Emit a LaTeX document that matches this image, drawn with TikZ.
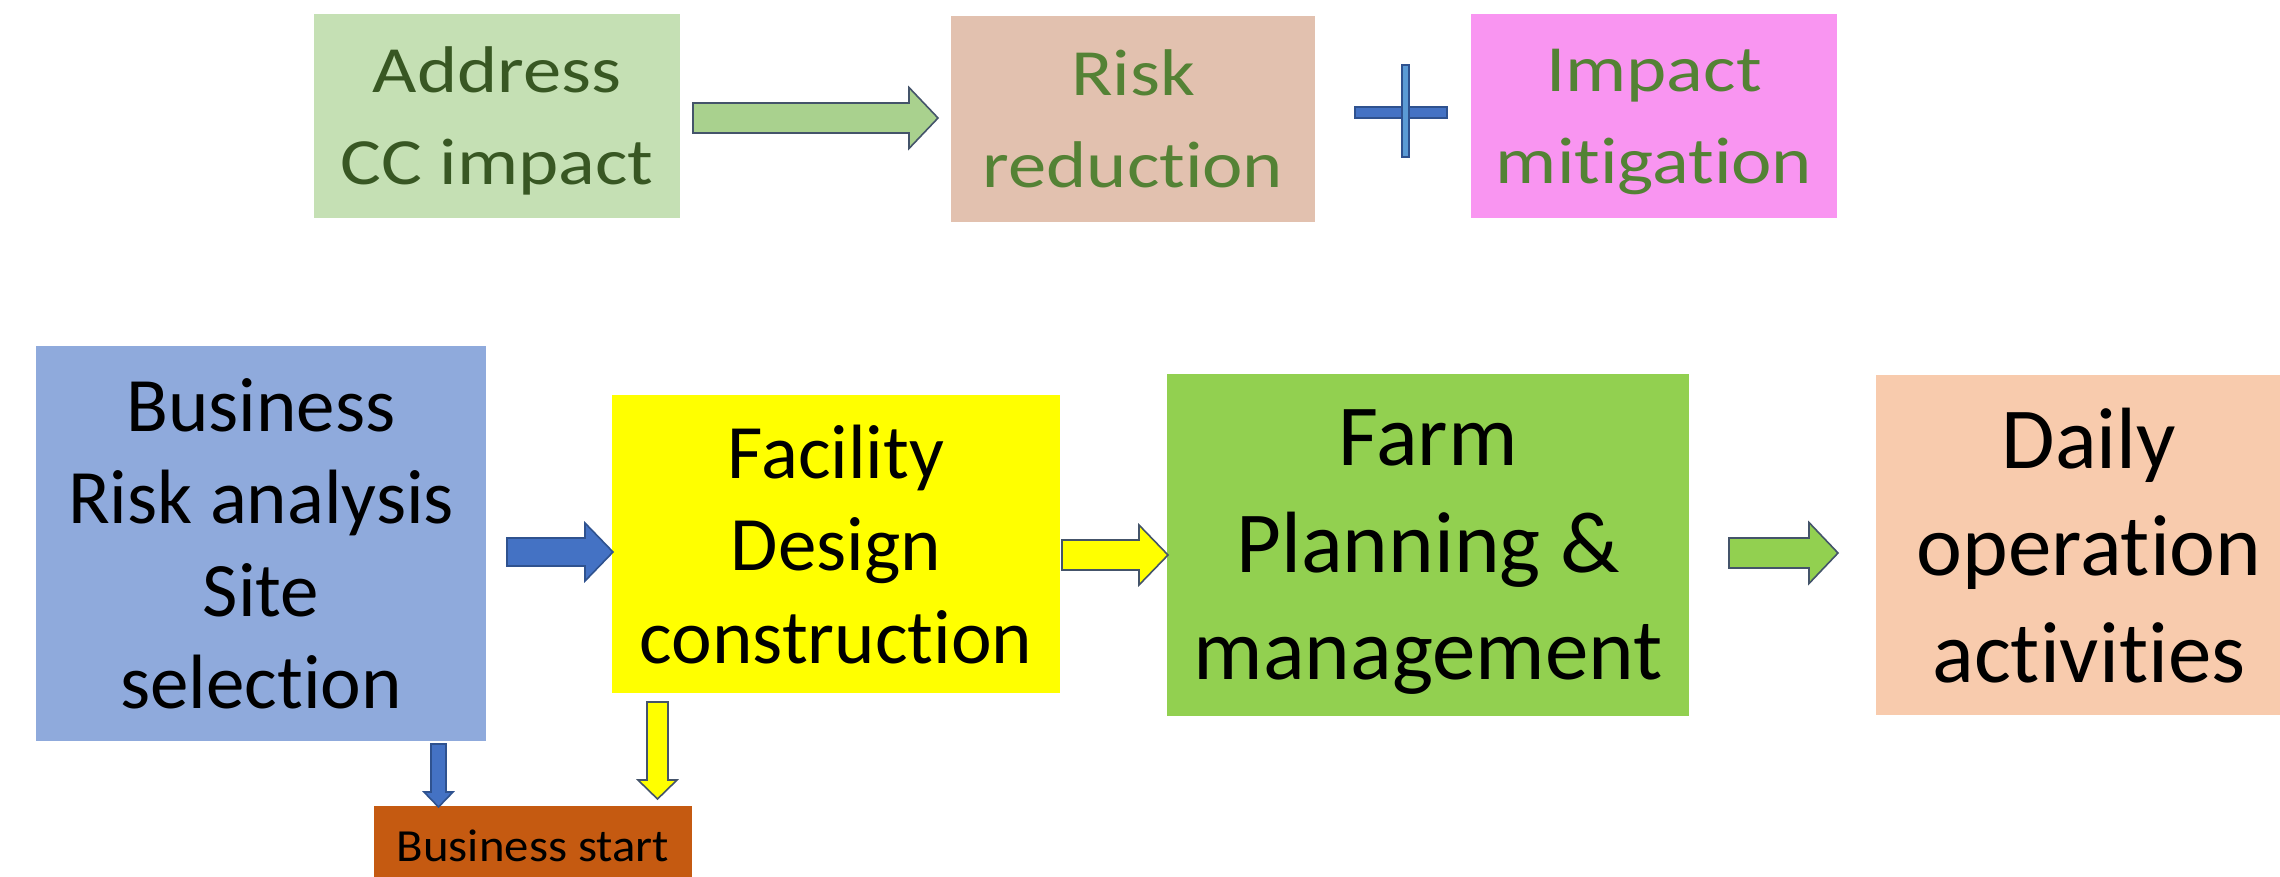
\documentclass[tikz,border=0pt]{standalone}
\usepackage{fontspec}
\setmainfont{Carlito}[Ligatures={NoCommon,NoRare,NoContextual}]
\newfontfamily\widefont{Carlito}[FakeStretch=1.16,Ligatures={NoCommon,NoRare,NoContextual}]
\newfontfamily\startfont{Carlito}[FakeStretch=1.06,Ligatures={NoCommon,NoRare,NoContextual}]
\usetikzlibrary{calc}

\definecolor{addrfill}{HTML}{C5E0B4}
\definecolor{riskfill}{HTML}{E2C1AF}
\definecolor{impactfill}{HTML}{F995F1}
\definecolor{bizfill}{HTML}{8FAADC}
\definecolor{facfill}{HTML}{FFFF00}
\definecolor{farmfill}{HTML}{92D050}
\definecolor{dailyfill}{HTML}{F8CBAD}
\definecolor{startfill}{HTML}{C55A11}
\definecolor{darkgreen}{HTML}{385723}
\definecolor{midgreen}{HTML}{548235}
\definecolor{arrowgreen}{HTML}{A9D18E}
\definecolor{accentblue}{HTML}{4472C4}
\definecolor{lightblue}{HTML}{5B9BD5}
\definecolor{outlineblue}{HTML}{2F528F}
\definecolor{slate}{HTML}{44546A}

% block arrow pointing right: style, from, to, body half height, head half height, head length
\newcommand\arrowright[6]{%
  \draw[#1] let \p1=(#2), \p2=(#3) in
    (\x1,\y1+#4pt) -- (\x2-#6pt,\y1+#4pt) -- (\x2-#6pt,\y1+#5pt) -- (\x2,\y1)
    -- (\x2-#6pt,\y1-#5pt) -- (\x2-#6pt,\y1-#4pt) -- (\x1,\y1-#4pt) -- cycle;}
% block arrow pointing down: style, from, to, body half width, head half width, head length
\newcommand\arrowdown[6]{%
  \draw[#1] let \p1=(#2), \p2=(#3) in
    (\x1-#4pt,\y1) -- (\x1-#4pt,\y2+#6pt) -- (\x1-#5pt,\y2+#6pt) -- (\x1,\y2)
    -- (\x1+#5pt,\y2+#6pt) -- (\x1+#4pt,\y2+#6pt) -- (\x1+#4pt,\y1) -- cycle;}

\tikzset{
  box/.style={inner sep=0pt, outer sep=0pt, align=center, text depth=0pt},
  toptext/.style={font=\widefont\fontsize{66}{92}\selectfont},
  midtext/.style={font=\fontsize{77}{92.5}\selectfont, text=black},
  bigtext/.style={font=\fontsize{87}{107}\selectfont, text=black},
  blockarrow/.style={line width=1.6pt, line join=miter},
}

\begin{document}
\begin{tikzpicture}[x=1pt, y=-1pt]
  \fill[white] (0,0) rectangle (2280,876);
  \useasboundingbox (0,0) rectangle (2280,876);

  % upper row
  \node[box, toptext, fill=addrfill, text=darkgreen, minimum width=366pt, minimum height=204pt]
    (addr) at (497,116) {Address\\CC impact};
  \node[box, toptext, fill=riskfill, text=midgreen, minimum width=364pt, minimum height=206pt]
    (risk) at (1133,119) {Risk\\reduction};
  \node[box, toptext, fill=impactfill, text=midgreen, minimum width=366pt, minimum height=204pt]
    (impact) at (1654,116) {Impact\\mitigation};

  \coordinate (g1a) at ($(addr.east)+(13,2)$);
  \coordinate (g1b) at ($(risk.west)+(-13,0)$);
  \arrowright{blockarrow, fill=arrowgreen, draw=slate}{g1a}{g1b}{15}{30.5}{29}

  % plus sign
  \draw[fill=accentblue, draw=outlineblue, line width=1.5pt] (1355,107) rectangle (1447,118);
  \draw[fill=lightblue, draw=outlineblue, line width=1.5pt] (1402,65) rectangle (1409,157);

  % lower row
  \node[box, midtext, fill=bizfill, minimum width=450pt, minimum height=395pt]
    (biz) at (261,543.5) {Business\\Risk analysis\\Site\\selection};
  \node[box, midtext, fill=facfill, minimum width=448pt, minimum height=298pt]
    (fac) at (836,544) {Facility\\Design\\construction};
  \node[box, bigtext, fill=farmfill, minimum width=522pt, minimum height=342pt]
    (farm) at (1428,545) {Farm\\Planning \&\\management};
  \node[box, bigtext, fill=dailyfill, minimum width=426pt, minimum height=340pt]
    (daily) at (2089,545) {Daily\\operation\\activities};
  \node[box, font=\startfont\fontsize{46}{55}\selectfont, fill=startfill, text=black,
    minimum width=318pt, minimum height=80pt]
    (start) at (533,846) {Business start};

  \coordinate (b1a) at ($(biz.east)+(21,8.5)$);
  \coordinate (b1b) at ($(fac.west)+(1,0)$);
  \arrowright{blockarrow, fill=accentblue, draw=outlineblue}{b1a}{b1b}{14}{29}{28}

  \coordinate (y1a) at ($(fac.east)+(2,11)$);
  \coordinate (y1b) at ($(farm.west)+(1,0)$);
  \arrowright{blockarrow, fill=facfill, draw=slate}{y1a}{y1b}{15}{30}{29}

  \coordinate (g2a) at ($(farm.east)+(40,8)$);
  \coordinate (g2b) at ($(daily.west)+(-38,0)$);
  \arrowright{blockarrow, fill=farmfill, draw=slate}{g2a}{g2b}{15}{30.5}{29}

  \coordinate (b2a) at ($(biz.south)+(177.5,3)$);
  \coordinate (b2b) at ($(start.north)+(0,1)$);
  \arrowdown{blockarrow, fill=accentblue, draw=outlineblue}{b2a}{b2b}{7.5}{14.5}{15}

  \coordinate (y2a) at ($(fac.south)+(-178.5,9)$);
  \coordinate (y2b) at ($(start.north)+(0,-7)$);
  \arrowdown{blockarrow, fill=facfill, draw=slate}{y2a}{y2b}{10.5}{19.5}{19}
\end{tikzpicture}
\end{document}
